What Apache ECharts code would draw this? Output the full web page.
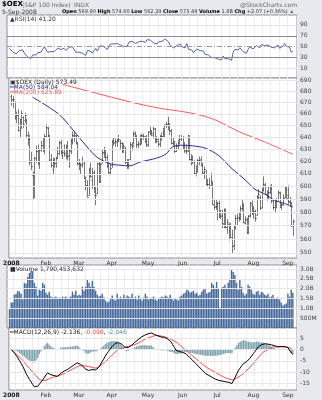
<!DOCTYPE html>
<html><head><meta charset="utf-8">
<script src="https://cdn.jsdelivr.net/npm/echarts@6/dist/echarts.min.js"></script>
<style>html,body{margin:0;padding:0;background:#e8e9ee;}#c{width:322px;height:400px;}</style>
</head><body><div id="c"></div>
<script>
// ---------- categories ----------
const monthNames = ['Jan','Feb','Mar','Apr','May','Jun','Jul','Aug','Sep'];
const monthDays = [
 [2,3,4,7,8,9,10,11,14,15,16,17,18,22,23,24,25,28,29,30,31],
 [1,4,5,6,7,8,11,12,13,14,15,19,20,21,22,25,26,27,28,29],
 [3,4,5,6,7,10,11,12,13,14,17,18,19,20,24,25,26,27,28,31],
 [1,2,3,4,7,8,9,10,11,14,15,16,17,18,21,22,23,24,25,28,29,30],
 [1,2,5,6,7,8,9,12,13,14,15,16,19,20,21,22,23,27,28,29,30],
 [2,3,4,5,6,9,10,11,12,13,16,17,18,19,20,23,24,25,26,27,30],
 [1,2,3,7,8,9,10,11,14,15,16,17,18,21,22,23,24,25,28,29,30,31],
 [1,4,5,6,7,8,11,12,13,14,15,18,19,20,21,22,25,26,27,28,29],
 [2,3,4,5]
];
// ---------- price (OHLC) ----------
const opens = [676,672,670,657,659,646,653,657,655,655,
640,639,621,609,608,623,629,619,630,634,
629,641,648,641,622,614,620,619,623,627,
635,625,630,625,633,625,629,637,641,641,
635,618,618,618,619,604,601,593,614,605,
611,593,595,618,604,619,627,628,624,617,
611,617,637,635,636,638,637,635,630,631,
620,618,622,634,634,643,641,634,635,638,
641,640,637,634,645,646,642,647,637,637,
635,641,641,644,651,651,651,645,635,636,
629,633,635,639,640,633,629,629,640,622,
622,620,611,612,621,622,617,611,612,602,
602,601,603,586,585,584,587,578,578,571,
582,569,571,568,560,556,569,576,576,575,
583,586,572,574,565,578,586,583,581,578,
592,592,584,598,601,594,592,596,599,589,
584,586,590,595,584,586,592,598,593,588,
587,569.9];
const highs = [677,676,671,662,664,656,663,658,661,656,
645,642,628,612,624,633,634,630,637,640,
643,651,649,642,626,623,623,624,632,637,
638,630,634,634,637,630,639,645,645,642,
636,622,619,624,620,608,605,615,619,615,
613,600,619,620,619,630,632,629,626,620,
618,638,640,639,639,642,638,636,635,632,
622,622,636,636,645,645,642,637,642,643,
643,641,642,645,649,646,649,648,641,639,
642,644,648,651,653,657.5,652,647,640,637,
635,638,642,642,641,636,634,642,641,626,
625,621,617,622,624,624,619,616,613,606,
607,611,604,590,590,588,589,582,582,583,
583,575,572,572,567,570,578,579,580,585,
590,587,577,576,578,588,589,585,582,593,
598,593,599,608,603,597,600,601,602,590,
589,591,597,596,588,594,600,599,601,592,
588,574.6];
const lows = [667,665,655,652,645,640,647,648,652,640,
633,617,613,590,591,619,617,614,628,628,
626,640,640,620,615,610,615,615,622,625,
626,622,624,622,621,615,626,634,636,634,
617,613,610,615,606,597,592,593,607,598,
595,585.5,594,603,603,619,623,620,615,610,
609,615,633,632,632,636,630,627,627,618,
614,614,621,629,634,639,631,631,633,634,
638,635,632,632,642,641,639,636,635,632,
632,637,640,640,648,646,642,634,633,627,
628,630,634,637,630,627,626,628,621,617,
618,609,608,611,617,616,610,606,601,600,
598,600,586,582,582,574,576,575,568,568,
568,564,559,561,549.6,552,567,570,573,574,
581,572,571,564,564,576,578,575,573,578,
590,582,583,596,594,589,590,594,587,582,
580,583,589,584,582,585,591,591,586,584,
569,562.29];
const closes = [672.9,672.9,656.4,658.6,646.5,655.2,660.5,651.5,658.6,642.1,
638.5,619.9,616.2,609.3,622.5,628.7,618.7,629.6,633.4,630.4,
641.0,648.9,642.1,621.5,616.8,621.6,619.0,622.7,627.2,635.8,
627.2,627.7,627.2,632.4,624.3,629.2,637.9,642.3,641.7,636.0,
618.7,619.0,616.9,620.1,606.5,601.4,592.1,614.1,608.5,611.7,
599.0,593.6,618.8,603.8,618.2,627.7,629.1,623.7,616.5,611.6,
615.1,637.2,635.9,636.8,637.3,638.2,635.0,629.8,632.6,619.7,
617.7,620.5,634.6,632.9,643.7,641.3,634.3,634.8,638.9,641.6,
640.9,637.0,634.6,644.1,646.1,643.3,648.1,636.4,638.7,634.4,
641.5,641.2,643.8,650.6,651.4,652.0,645.9,635.5,637.2,628.8,
633.1,635.6,639.0,640.0,633.3,629.6,629.4,641.7,621.9,622.4,
620.8,610.4,612.3,621.6,621.6,617.4,611.3,613.6,602.3,602.3,
600.6,604.1,586.4,584.2,585.0,587.2,576.6,577.1,572.3,582.1,
568.8,572.8,566.4,561.4,555.2,569.1,576.0,576.2,575.9,583.6,
586.0,572.4,574.8,564.2,577.2,586.9,579.2,581.0,575.8,592.3,
594.3,583.7,597.6,601.8,594.5,592.8,596.0,598.5,589.4,583.9,
587.6,589.0,595.7,584.0,586.2,590.8,599.6,591.4,589.0,587.8,
570.2,573.49];
// moving averages read at points along the drawn curves: [tradingDayIndex, value]
const ma50 = [[13,674.5],[29,659.5],[40,641.9],[46,632.0],[52,623.6],[60,618.2],[66,617.0],[72,616.5],[78,619.5],[88,622.7],[94,626.2],[98,632.1],[104,633.4],[110,632.9],[118,630.9],[126,624.8],[134,614.2],[142,605.3],[148,597.8],[154,594.1],[160,589.2],[166,586.8],[171,584.04]];
const ma200 = [[31,686.1],[54,677.2],[74,669.8],[90,664.9],[106,661.5],[118,657.7],[126,653.4],[138,644.9],[154,636.1],[171,625.89]];
// ---------- RSI(14) ----------
const rsi = [47,46,40,42,37,40,43,40,44,38,
36,31,30,28.5,35,38,35,39,41,40,
45,50,47,40,38,41,40,41,43,47,
44,45,45,47,43,45,49,51,50,47,
40,41,40,42,38,36,34,43,41,42,
38,37,47,42,48,52,53,50,47,45,
47,55,54,55,55,56,55,53,54,50,
49,51,58,58,60,59,56,57,59,61,
60,59,58,63,64,62,65,57,58,55,
59,59,60,63,64,64,59,52,53,48,
51,52,54,55,50,48,48,56,45,45,
44,39,41,46,46,43,40,42,36,36,
35,38,30,29,30,31,27,28,26,33,
28,31,28,27,25,40,45,45,44,48,
50,41,43,38,45,50,47,46,44,52,
53,48,54,56,52,51,53,54,49,46,
48,49,53,47,48,51,56,51,50,49,
40,41.2];
// ---------- Volume (billions) ----------
const volumeB = [0.95,1.3,1.3,1.7,1.75,1.9,1.85,1.75,1.45,2.3,
2.25,2.6,2.8,2.9,2.9,2.3,2.1,1.65,1.95,1.9,
2.3,2.2,1.8,1.7,1.85,1.6,1.55,1.55,1.6,1.5,
1.55,1.5,1.6,1.55,1.6,1.5,1.55,1.6,1.85,1.7,
1.9,1.65,1.7,1.65,2.1,1.9,2.1,2.45,2.3,2.1,
2.4,2.1,1.9,1.7,1.6,1.65,1.75,1.55,1.4,1.3,
1.35,1.5,1.65,1.45,1.4,1.75,1.5,1.6,1.5,1.7,
1.55,1.65,1.6,1.55,1.75,1.5,1.6,1.45,1.65,1.5,
1.4,1.55,1.75,1.6,1.45,1.5,1.55,1.6,1.45,1.4,
1.5,1.55,1.6,1.55,1.65,1.6,1.55,1.7,1.5,1.4,
1.5,1.45,1.4,1.6,1.65,1.75,1.8,1.95,1.9,1.8,
1.85,1.9,1.75,1.8,1.65,1.7,1.85,1.95,2.0,1.75,
1.8,1.85,2.3,2.2,2.05,2.35,2.0,1.05,2.05,2.1,
2.2,2.05,2.3,2.5,2.95,2.85,2.7,2.3,1.95,2.45,
2.1,1.8,1.65,1.75,2.2,2.1,1.95,1.75,1.7,1.85,
1.9,1.7,1.85,1.8,1.7,1.65,1.75,1.55,1.6,1.7,
1.5,1.5,1.55,1.45,1.3,1.15,1.2,1.25,1.75,1.6,
1.95,1.79];
// ---------- MACD(12,26,9) ----------
const macd = [0,-0.8,-1.7,-2.5,-3.7,-5.0,-6.2,-7.6,-9.0,-10.7,
-12.0,-13.3,-14.4,-15.6,-16.6,-16.6,-16.3,-15.4,-14.5,-13.6,
-12.5,-11.3,-10.4,-10.8,-11.2,-11.4,-11.6,-11.8,-11.9,-11.3,
-10.6,-10.0,-9.6,-9.2,-8.9,-8.4,-7.9,-7.4,-6.9,-6.4,
-5.9,-6.2,-6.6,-7.0,-7.8,-8.7,-9.5,-9.3,-9.1,-8.9,
-9.0,-9.1,-9.2,-8.0,-6.8,-5.5,-4.3,-3.0,-1.8,-0.8,
0.2,1.2,1.9,2.7,3.4,3.1,2.7,2.4,1.7,1.1,
0.4,0.9,1.4,1.9,2.5,3.2,3.8,4.4,5.0,5.6,
6.0,6.4,6.8,7.0,7.2,7.4,7.1,6.7,6.4,6.1,
5.9,5.6,5.5,5.4,5.3,4.7,4.0,3.4,2.2,1.0,
-0.3,-0.6,-0.8,-1.1,-1.3,-1.6,-1.8,-2.5,-3.3,-4.0,
-4.7,-5.5,-6.2,-6.9,-7.7,-8.4,-9.2,-9.9,-10.7,-11.1,
-11.5,-12.0,-12.4,-12.8,-13.2,-13.6,-13.7,-13.9,-14.0,-14.1,
-14.3,-14.4,-14.6,-14.9,-15.1,-13.7,-12.2,-10.7,-9.2,-8.2,
-7.2,-6.2,-5.7,-5.3,-4.8,-3.8,-2.8,-1.8,-0.8,0.2,
1.2,1.7,2.2,2.7,2.6,2.5,2.4,2.2,2.1,1.9,
1.7,1.4,1.2,1.3,1.4,1.5,1.3,1.1,0.9,0.2,
-1.5,-2.136];
const signal = [0,-0.6,-1.3,-2.0,-2.7,-3.3,-4.0,-4.9,-5.8,-6.7,
-7.5,-8.4,-9.2,-10.0,-10.8,-11.7,-12.5,-13.3,-13.6,-13.8,
-14.0,-13.7,-13.4,-13.0,-12.7,-12.4,-12.2,-12.0,-11.8,-11.6,
-11.4,-11.0,-10.6,-10.3,-9.9,-9.6,-9.2,-8.8,-8.4,-8.0,
-7.7,-7.3,-7.0,-7.1,-7.2,-7.3,-7.5,-7.6,-7.7,-7.9,
-8.1,-8.3,-8.4,-7.8,-7.2,-6.6,-6.0,-5.4,-4.8,-4.1,
-3.3,-2.6,-1.8,-1.1,-0.3,0.0,0.2,0.5,0.7,1.0,
1.2,1.4,1.6,1.8,2.0,2.2,2.4,2.8,3.2,3.7,
4.1,4.5,4.9,5.2,5.4,5.7,5.9,6.2,6.4,6.3,
6.1,6.0,5.9,5.7,5.6,5.2,4.9,4.5,4.1,3.8,
3.4,2.8,2.2,1.6,1.0,0.3,-0.3,-0.9,-1.5,-2.2,
-2.8,-3.4,-4.0,-4.6,-5.3,-5.9,-6.5,-7.1,-7.7,-8.1,
-8.6,-9.0,-9.4,-9.8,-10.3,-10.7,-11.1,-11.4,-11.8,-12.2,
-12.5,-12.9,-13.1,-13.3,-13.5,-13.6,-13.1,-12.6,-12.2,-11.7,
-11.2,-10.7,-9.9,-9.2,-8.4,-7.7,-6.9,-6.2,-5.3,-4.4,
-3.6,-2.7,-1.9,-1.1,-0.7,-0.3,0.0,0.4,0.8,1.2,
1.2,1.2,1.2,1.2,1.2,1.2,1.2,1.1,1.0,0.8,
0.4,-0.09];
const histogram = [0,-0.2,-0.4,-0.5,-1.0,-1.7,-2.2,-2.7,-3.2,-4.0,
-4.5,-4.9,-5.2,-5.6,-5.8,-4.9,-3.8,-2.1,-0.9,0.2,
1.5,2.4,3.0,2.2,1.5,1.0,0.6,0.2,-0.1,0.3,
0.8,1.0,1.0,1.1,1.0,1.2,1.3,1.4,1.5,1.6,
1.8,1.1,0.4,0.1,-0.6,-1.4,-2.0,-1.7,-1.4,-1.0,
-0.9,-0.8,-0.8,-0.2,0.4,1.1,1.7,2.4,3.0,3.3,
3.5,3.8,3.7,3.8,3.7,3.1,2.5,1.9,1.0,0.1,
-0.8,-0.5,-0.2,0.1,0.5,1.0,1.4,1.6,1.8,1.9,
1.9,1.9,1.9,1.8,1.8,1.7,1.2,0.5,0.0,-0.2,
-0.2,-0.4,-0.4,-0.3,-0.3,-0.5,-0.9,-1.1,-1.2,-1.6,
-2.0,-2.0,-1.8,-1.7,-1.5,-1.2,-1.0,-1.1,-1.3,-1.5,
-1.6,-1.8,-2.0,-2.1,-2.2,-2.3,-2.5,-2.6,-2.8,-2.8,
-2.7,-2.8,-2.9,-2.8,-2.7,-2.7,-2.5,-2.4,-2.2,-1.9,
-1.8,-1.5,-1.5,-1.6,-1.6,-0.1,0.9,1.9,3.0,3.5,
3.9,4.2,4.0,3.7,3.5,3.5,3.3,3.2,3.4,3.6,
3.5,3.3,3.2,3.0,2.7,2.3,2.0,1.7,1.3,0.9,
0.6,0.3,0.1,0.2,0.3,0.4,0.2,0.1,-0.1,-0.6,
-1.6,-2.046];
// ---------- tick labels ----------
const rsiTicks = [10,30,50,70,90];
const priceTicks = [550,560,570,580,590,600,610,620,630,640,650,660,670,680,690];
const volTicks = [0.5,1.0,1.5,2.0,2.5,3.0];
const volTickLabels = ['500M','1.0B','1.5B','2.0B','2.5B','3.0B'];
const macdTicks = [-15,-10,-5,0,5];

// ---------- build ----------
const pad = n => (n < 10 ? '0' : '') + n;
const dates = [];
monthDays.forEach((days, m) => days.forEach(d => dates.push('2008-' + pad(m + 1) + '-' + pad(d))));
const categories = [''].concat(dates, ['', '']);
const isWeekStart = categories.map((c, i) => {
  if (!c || i === 0) return false;
  const prev = categories[i - 1];
  if (!prev) return false;
  const a = new Date(prev + 'T12:00:00Z'), b = new Date(c + 'T12:00:00Z');
  return b.getUTCDay() <= a.getUTCDay() || (b - a) > 4 * 864e5;
});
const isMonthStart = categories.map((c, i) => !!c && (i === 1 || c.slice(5, 7) !== categories[i - 1].slice(5, 7)));

const FONT = '"DejaVu Sans", Verdana, sans-serif';
const G = [
  {left: 7, width: 290, top: 15, height: 63},
  {left: 7, width: 290, top: 78, height: 180},
  {left: 7, width: 290, top: 265, height: 63},
  {left: 7, width: 290, top: 328, height: 62}
];
const grid = G.map(g => Object.assign({show: true, backgroundColor: '#ffffff', borderColor: '#8f8f8f', borderWidth: 1, containLabel: false}, g));

const monthLabel = {
  show: true, interval: (i) => isMonthStart[i], margin: 2, fontSize: 6, fontFamily: FONT, color: '#333',
  formatter: (v) => { if (!v) return ''; const m = +v.slice(5, 7); return m === 1 ? '{y|2008}' : monthNames[m - 1]; },
  rich: {y: {fontWeight: 'bold', fontSize: 6, fontFamily: FONT, color: '#111'}}
};
const xAxis = G.map((g, gi) => ({
  type: 'category', gridIndex: gi, data: categories, boundaryGap: true,
  axisLine: {show: false}, axisTick: {show: false},
  axisLabel: (gi === 1 || gi === 3) ? monthLabel : {show: false},
  splitLine: {show: true, interval: (i) => isWeekStart[i], lineStyle: {color: '#ececec', width: 1}}
}));
const yLab = (vals, fmt) => ({customValues: vals, fontSize: 6, fontFamily: FONT, color: '#444', margin: 3, formatter: fmt});
const yBase = {position: 'right', axisLine: {show: false}, axisTick: {show: false}, splitLine: {show: false}};
const yAxis = [
  Object.assign({gridIndex: 0, type: 'value', min: -7.4, max: 108.2, axisLabel: yLab(rsiTicks, v => String(Math.round(v)))}, yBase),
  Object.assign({gridIndex: 1, type: 'log', logBase: 10, min: 546.3, max: 691.8, axisLabel: yLab(priceTicks, v => String(Math.round(v)))}, yBase),
  Object.assign({gridIndex: 2, type: 'value', min: 0, max: 3.21, axisLabel: yLab(volTicks, v => volTickLabels[Math.round(v * 2) - 1] || '')}, yBase),
  Object.assign({gridIndex: 3, type: 'value', min: -18, max: 9.6, axisLabel: yLab(macdTicks, v => String(Math.round(v)))}, yBase)
];

const light = {color: '#e6e6e6', width: 1, type: 'solid'};
function gridLines(gi, vals, styleFn) {
  return {type: 'line', xAxisIndex: gi, yAxisIndex: gi, data: [], silent: true, z: 1, animation: false,
    markLine: {silent: true, symbol: ['none', 'none'], animation: false, label: {show: false},
      emphasis: {disabled: true},
      data: vals.map(v => ({yAxis: v, lineStyle: styleFn(v)}))}};
}
const idx = (arr) => arr.map((v, i) => [i + 1, v]);
const ohlc = closes.map((c, i) => [i + 1, opens[i], highs[i], lows[i], c]);

function renderOHLC(params, api) {
  const xi = api.value(0);
  const pO = api.coord([xi, api.value(1)]);
  const pH = api.coord([xi, api.value(2)]);
  const pL = api.coord([xi, api.value(3)]);
  const pC = api.coord([xi, api.value(4)]);
  const x = Math.round(pH[0]) + 0.5;
  const yo = Math.round(pO[1]) + 0.5, yc = Math.round(pC[1]) + 0.5;
  return {type: 'group', children: [
    {type: 'line', shape: {x1: x, y1: pH[1], x2: x, y2: pL[1]}, style: {stroke: '#7a7a7a', lineWidth: 1}},
    {type: 'line', shape: {x1: x - 1, y1: yo, x2: x, y2: yo}, style: {stroke: '#555', lineWidth: 1}},
    {type: 'line', shape: {x1: x, y1: yc, x2: x + 1, y2: yc}, style: {stroke: '#222', lineWidth: 1}}
  ]};
}

const series = [
  gridLines(0, rsiTicks, v => (v === 30 || v === 70) ? {color: '#8a8a8a', width: 1, type: 'solid'} : (v === 50 ? {color: '#9a9a9a', width: 1, type: [5, 2, 1, 2]} : light)),
  gridLines(1, priceTicks, () => light),
  gridLines(2, volTicks, () => light),
  gridLines(3, macdTicks, () => light),
  {type: 'line', name: 'RSI', xAxisIndex: 0, yAxisIndex: 0, data: idx(rsi), symbol: 'none', z: 3,
    lineStyle: {color: '#5765a6', width: 1}},
  {type: 'custom', name: 'OEX', xAxisIndex: 1, yAxisIndex: 1, data: ohlc, renderItem: renderOHLC,
    encode: {x: 0, y: [1, 2, 3, 4]}, z: 3},
  {type: 'line', name: 'MA50', xAxisIndex: 1, yAxisIndex: 1, data: ma50.map(p => [p[0] + 1, p[1]]), symbol: 'none', smooth: 0.3, z: 4,
    lineStyle: {color: '#2b2b8f', width: 1}},
  {type: 'line', name: 'MA200', xAxisIndex: 1, yAxisIndex: 1, data: ma200.map(p => [p[0] + 1, p[1]]), symbol: 'none', smooth: 0.3, z: 4,
    lineStyle: {color: '#f25a5a', width: 1}},
  {type: 'bar', name: 'Volume', xAxisIndex: 2, yAxisIndex: 2, data: idx(volumeB), barCategoryGap: '15%', z: 3,
    itemStyle: {color: '#45699a'}},
  {type: 'bar', name: 'Hist', xAxisIndex: 3, yAxisIndex: 3, data: idx(histogram), barCategoryGap: '20%', z: 3,
    itemStyle: {color: '#79a0ab'}},
  {type: 'line', name: 'Signal', xAxisIndex: 3, yAxisIndex: 3, data: idx(signal), symbol: 'none', z: 4,
    lineStyle: {color: '#ff4a4a', width: 1}},
  {type: 'line', name: 'MACD', xAxisIndex: 3, yAxisIndex: 3, data: idx(macd), symbol: 'none', z: 5,
    lineStyle: {color: '#000000', width: 1}}
];

const t = (x, y, text, font, fill, extra) => ({type: 'text', x: x, y: y, z: 100,
  style: Object.assign({text: text, font: font, fill: fill}, extra || {})});
const graphic = [
  t(2, 1, '$OEX', 'bold 7px ' + FONT, '#000'),
  t(22, 2, '(S&P 100 Index)', '6px ' + FONT, '#666'),
  t(74, 2, 'INDX', '6px ' + FONT, '#666'),
  t(297, 2, '@StockCharts.com', '6px ' + FONT, '#666', {align: 'right'}),
  t(2, 9, '5-Sep-2008', '6px ' + FONT, '#333'),
  {type: 'text', x: 62, y: 9.5, z: 100, style: {
    text: '{b|Open} 569.90 {b|High} 574.60 {b|Low} 562.29 {b|Close} 573.49 {b|Volume} 1.8B {b|Chg} +2.07 (+0.36%) {g|▲}',
    font: '5px ' + FONT, fill: '#333',
    rich: {b: {fontWeight: 'bold', fontSize: 5, fontFamily: FONT, fill: '#000'}, g: {fill: '#2c8a2c', fontSize: 5}}}},
  t(10, 16.5, '▲RSI(14) 41.20', '6px ' + FONT, '#333'),
  t(10, 79.5, '▣$OEX (Daily) 573.49', '6px ' + FONT, '#222'),
  t(10, 84.5, '━MA(50) 584.04', '6px ' + FONT, '#2b2b8f'),
  t(10, 89.5, '━MA(200) 625.89', '6px ' + FONT, '#f25a5a'),
  t(10, 266.5, '■Volume 1,790,453,632', '6px ' + FONT, '#333'),
  {type: 'text', x: 10, y: 329.5, z: 100, style: {
    text: '━MACD(12,26,9) -2.136, {r|-0.090}, {c|-2.046}', font: '6px ' + FONT, fill: '#222',
    rich: {r: {fill: '#ff4a4a', fontSize: 6, fontFamily: FONT}, c: {fill: '#5f8f9c', fontSize: 6, fontFamily: FONT}}}}
];

const chart = echarts.init(document.getElementById('c'), null, {renderer: 'canvas'});
chart.setOption({
  animation: false, backgroundColor: '#e8e9ee',
  grid: grid, xAxis: xAxis, yAxis: yAxis, series: series, graphic: graphic,
  tooltip: {show: false}
});
</script></body></html>
